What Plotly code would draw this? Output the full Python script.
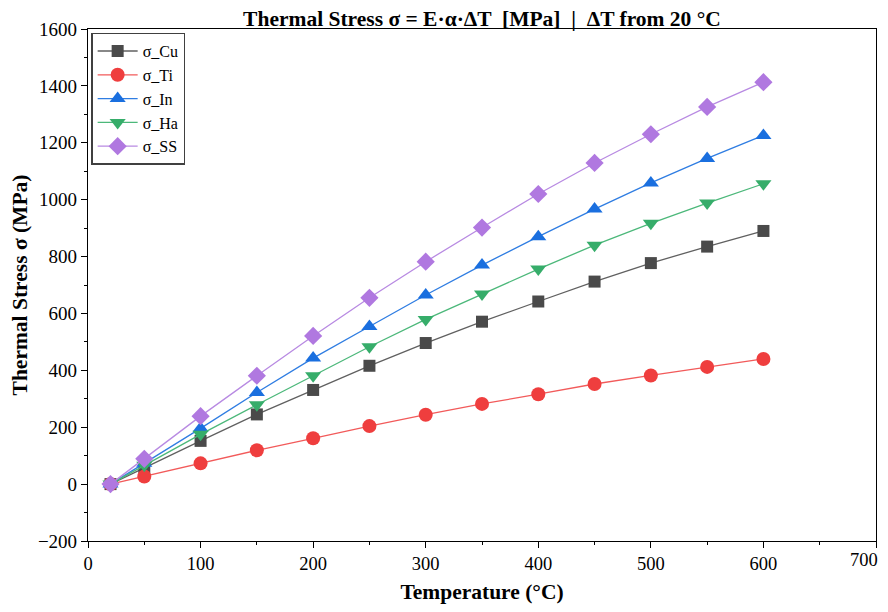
import plotly.graph_objects as go

temps = [20, 50, 100, 150, 200, 250, 300, 350, 400, 450, 500, 550, 600]
sigma_cu = [0, 58, 152, 245, 331, 416, 496, 571, 642, 712, 777, 835, 890]
sigma_ti = [0, 27, 73, 119, 161, 204, 244, 282, 316, 352, 382, 412, 440]
sigma_in = [0, 73, 196, 322, 443, 554, 665, 770, 870, 967, 1059, 1145, 1226]
sigma_ha = [0, 66, 175, 279, 381, 483, 579, 668, 756, 840, 917, 988, 1056]
sigma_ss = [0, 89, 239, 381, 521, 655, 782, 902, 1020, 1129, 1230, 1326, 1413]

x_tick_vals = [0, 100, 200, 300, 400, 500, 600, 700]
x_tick_text = ["0", "100", "200", "300", "400", "500", "600", ""]
x_last_label = "700"

series = [
    ("σ_Cu", sigma_cu, "#4a4a4a", "#606060", "square", 12),
    ("σ_Ti", sigma_ti, "#ef3e3e", "#f25a5a", "circle", 14),
    ("σ_In", sigma_in, "#1a6fdf", "#2f7de2", "triangle-up", 14),
    ("σ_Ha", sigma_ha, "#36ad6a", "#4cb87a", "triangle-down", 14),
    ("σ_SS", sigma_ss, "#b078e0", "#b88ae2", "diamond", 14),
]

fig = go.Figure()
for name, vals, mc, lc, sym, sz in series:
    fig.add_trace(go.Scatter(
        x=temps, y=vals, name=name, mode="lines+markers",
        line=dict(color=lc, width=1.3),
        marker=dict(symbol=sym, size=sz, color=mc, line=dict(width=0)),
    ))

font_family = "Liberation Serif"
fig.update_layout(
    width=880, height=596,
    margin=dict(l=80, r=12, t=21, b=63),
    paper_bgcolor="white", plot_bgcolor="white",
    font=dict(family=font_family, size=19, color="black"),
    title=dict(text="<b>Thermal Stress σ = E·α·ΔT  [MPa]  |  ΔT from 20 °C</b>",
               x=0.5, xref="paper", xanchor="center",
               yref="container", y=0.983, yanchor="middle",
               font=dict(family=font_family, size=21.5, color="black"),
               automargin=False),
    legend=dict(x=0.004, y=0.993, xanchor="left", yanchor="top",
                bgcolor="white", bordercolor="#404040", borderwidth=1.5,
                font=dict(family=font_family, size=16),
                itemwidth=40, tracegroupgap=0),
    showlegend=True,
)
fig.add_annotation(
    text=x_last_label, x=x_tick_vals[-1], xref="x", y=0, yref="paper",
    xanchor="right", yanchor="top", yshift=-7, xshift=4, showarrow=False,
    font=dict(family=font_family, size=18.5, color="black"),
)
fig.update_xaxes(
    range=[0, 700], tickmode="array", tickvals=x_tick_vals, ticktext=x_tick_text,
    automargin=False,
    showline=True, linecolor="black", linewidth=1.2, mirror=True,
    ticks="outside", ticklen=6, tickcolor="black", tickwidth=1,
    minor=dict(tickvals=[50, 150, 250, 350, 450, 550, 650], ticks="outside",
               ticklen=3, tickcolor="black"),
    showgrid=False, zeroline=False,
    title=dict(text="<b>Temperature (°C)</b>", font=dict(size=21.5), standoff=19),
    tickfont=dict(size=18.5),
)
fig.update_yaxes(
    range=[-200, 1600], dtick=200, tick0=0, automargin=False,
    showline=True, linecolor="black", linewidth=1.2, mirror=True,
    ticks="outside", ticklen=6, tickcolor="black", tickwidth=1,
    minor=dict(dtick=100, ticks="outside", ticklen=3, tickcolor="black"),
    showgrid=False, zeroline=False, ticklabeloverflow="allow",
    title=dict(text="<b>Thermal Stress σ (MPa)</b>", font=dict(size=21.5), standoff=4),
    tickfont=dict(size=19),
)
fig.write_html("out.html")
